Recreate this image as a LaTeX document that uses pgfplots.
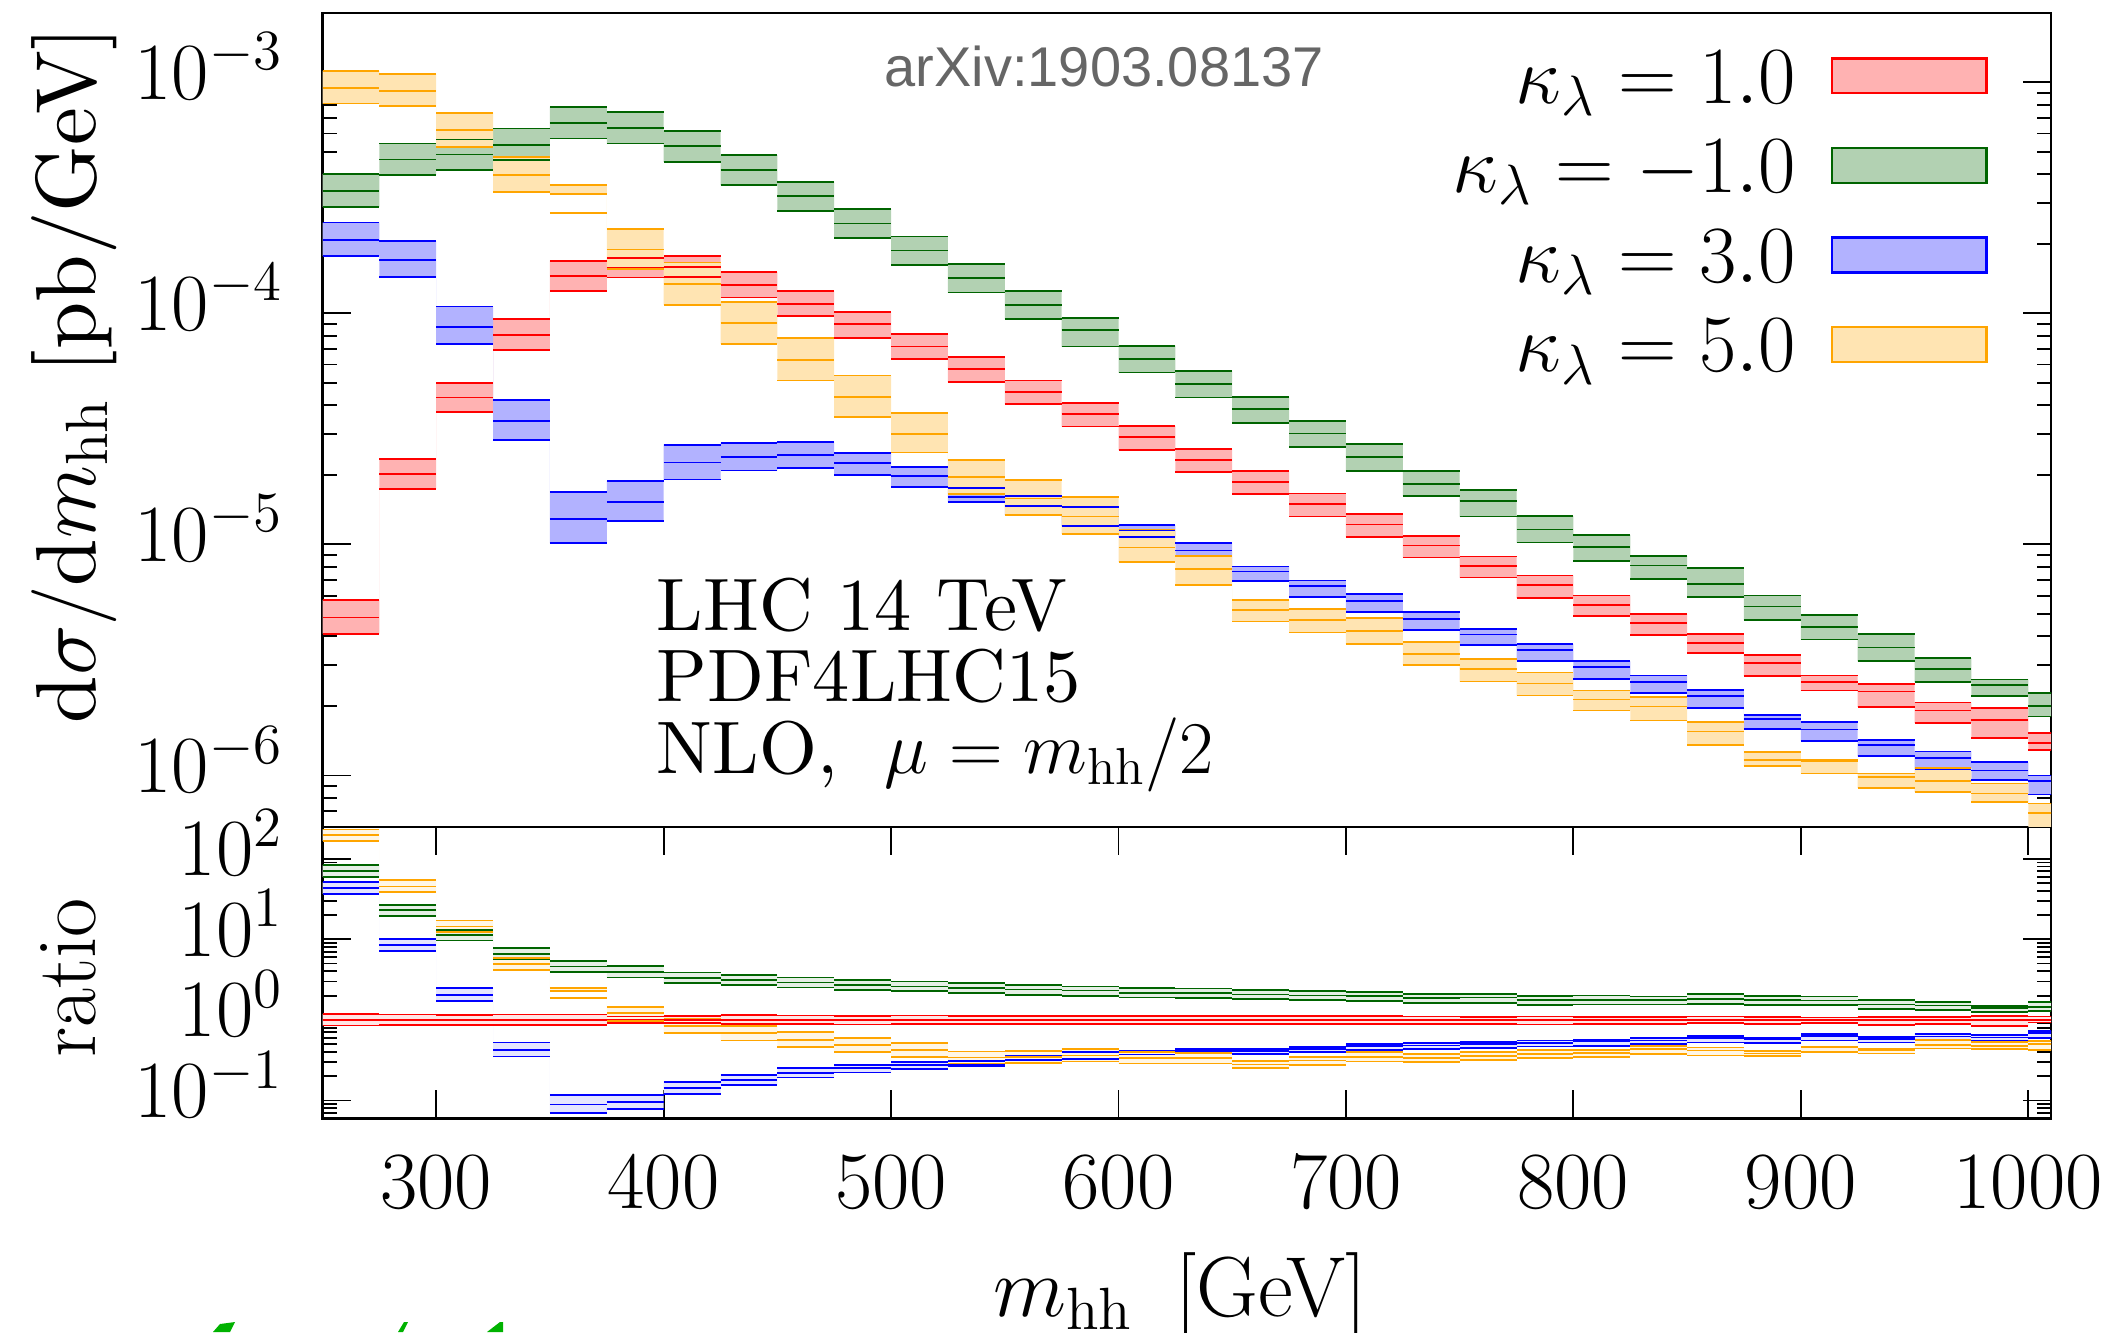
\RequirePackage{fix-cm}
\documentclass[border=0pt]{standalone}
\usepackage{fontspec}
\newfontfamily\arxivfont{Liberation Sans}
\newfontfamily\tenrm{lmroman10-regular.otf}
\usepackage{pgfplots}
\usepackage{pgfplotstable}
\usepgfplotslibrary{fillbetween}
\pgfplotsset{compat=1.18}

\definecolor{cR}{RGB}{255,0,0}
\definecolor{cG}{RGB}{0,100,0}
\definecolor{cB}{RGB}{0,0,255}
\definecolor{cO}{RGB}{255,165,0}
\newcommand\bigfont{\fontsize{20.3}{24}\selectfont}
\newcommand\labfont{\fontsize{21.3}{25}\selectfont}
\newcommand\txtfont{\tenrm\fontsize{18.6}{17.9}\selectfont}

% columns: bin start, band low, central, band high, then the same for the ratio panel
\pgfplotstableread{
x    lo      c       hi      rlo    rc     rhi
250  4.11e-6 4.83e-6 5.76e-6 0.850  1      1.190
275  1.74e-5 2.02e-5 2.35e-5 0.861  1      1.165
300  3.73e-5 4.32e-5 5.01e-5 0.864  1      1.161
325  6.94e-5 8.06e-5 9.42e-5 0.861  1      1.169
350  1.25e-4 1.45e-4 1.69e-4 0.864  1      1.165
375  1.43e-4 1.57e-4 1.73e-4 0.911  1      1.105
400  1.44e-4 1.59e-4 1.77e-4 0.905  1      1.112
425  1.17e-4 1.33e-4 1.51e-4 0.882  1      1.142
450  9.74e-5 1.10e-4 1.25e-4 0.882  1      1.134
475  7.85e-5 8.96e-5 1.01e-4 0.876  1      1.127
500  6.33e-5 7.18e-5 8.11e-5 0.882  1      1.131
525  5.05e-5 5.73e-5 6.45e-5 0.882  1      1.127
550  4.04e-5 4.58e-5 5.12e-5 0.882  1      1.116
575  3.24e-5 3.66e-5 4.08e-5 0.885  1      1.116
600  2.56e-5 2.91e-5 3.26e-5 0.882  1      1.119
625  2.05e-5 2.31e-5 2.58e-5 0.887  1      1.119
650  1.65e-5 1.86e-5 2.07e-5 0.887  1      1.112
675  1.32e-5 1.50e-5 1.66e-5 0.882  1      1.108
700  1.08e-5 1.22e-5 1.35e-5 0.890  1      1.112
725  8.78e-6 9.89e-6 1.09e-5 0.887  1      1.105
750  7.19e-6 8.08e-6 8.87e-6 0.890  1      1.097
775  5.86e-6 6.67e-6 7.34e-6 0.879  1      1.101
800  4.88e-6 5.48e-6 6.01e-6 0.890  1      1.097
825  4.04e-6 4.57e-6 4.99e-6 0.885  1      1.094
850  3.39e-6 3.73e-6 4.11e-6 0.908  1      1.101
875  2.70e-6 3.07e-6 3.31e-6 0.882  1      1.079
900  2.33e-6 2.53e-6 2.71e-6 0.920  1      1.072
925  1.98e-6 2.31e-6 2.49e-6 0.855  1      1.076
950  1.69e-6 1.91e-6 2.07e-6 0.882  1      1.083
975  1.45e-6 1.74e-6 1.96e-6 0.833  1      1.123
1000 1.29e-6 1.38e-6 1.53e-6 0.930  1      1.105
1025 1.29e-6 1.38e-6 1.53e-6 0.930  1      1.105
}\kOne

\pgfplotstableread{
x    lo      c       hi      rlo    rc     rhi
250  2.89e-4 3.38e-4 4.00e-4 59.8   69.9   82.8
275  3.96e-4 4.63e-4 5.43e-4 19.6   22.9   26.9
300  4.17e-4 4.87e-4 5.65e-4 9.65   11.3   13.1
325  4.60e-4 5.34e-4 6.31e-4 5.71   6.63   7.83
350  5.71e-4 6.67e-4 7.82e-4 3.94   4.60   5.40
375  5.43e-4 6.35e-4 7.44e-4 3.35   3.95   4.65
400  4.52e-4 5.29e-4 6.16e-4 2.84   3.32   3.87
425  3.58e-4 4.17e-4 4.84e-4 2.70   3.14   3.65
450  2.78e-4 3.22e-4 3.71e-4 2.52   2.91   3.36
475  2.12e-4 2.45e-4 2.83e-4 2.36   2.73   3.15
500  1.62e-4 1.87e-4 2.15e-4 2.26   2.60   2.99
525  1.23e-4 1.42e-4 1.63e-4 2.15   2.48   2.85
550  9.45e-5 1.09e-4 1.25e-4 2.06   2.39   2.73
575  7.18e-5 8.47e-5 9.51e-5 1.96   2.32   2.60
600  5.54e-5 6.35e-5 7.25e-5 1.90   2.18   2.49
625  4.32e-5 4.95e-5 5.65e-5 1.87   2.15   2.45
650  3.34e-5 3.85e-5 4.36e-5 1.80   2.07   2.35
675  2.63e-5 3.02e-5 3.42e-5 1.75   2.01   2.29
700  2.08e-5 2.39e-5 2.71e-5 1.71   1.97   2.23
725  1.62e-5 1.83e-5 2.07e-5 1.63   1.85   2.10
750  1.32e-5 1.54e-5 1.72e-5 1.63   1.90   2.12
775  1.02e-5 1.16e-5 1.33e-5 1.53   1.75   2.00
800  8.49e-6 9.76e-6 1.10e-5 1.55   1.78   2.01
825  7.10e-6 8.11e-6 8.90e-6 1.55   1.78   1.95
850  5.90e-6 6.76e-6 7.89e-6 1.58   1.81   2.12
875  4.69e-6 5.39e-6 6.01e-6 1.53   1.76   1.96
900  3.88e-6 4.40e-6 4.93e-6 1.53   1.74   1.95
925  3.12e-6 3.58e-6 4.08e-6 1.35   1.55   1.76
950  2.53e-6 2.89e-6 3.22e-6 1.32   1.51   1.68
975  2.20e-6 2.47e-6 2.60e-6 1.26   1.42   1.49
1000 1.80e-6 2.00e-6 2.28e-6 1.30   1.45   1.65
1025 1.80e-6 2.00e-6 2.28e-6 1.30   1.45   1.65
}\kMinusOne

\pgfplotstableread{
x    lo      c       hi      rlo    rc     rhi
250  1.77e-4 2.07e-4 2.47e-4 36.6   43.0   51.0
275  1.44e-4 1.70e-4 2.06e-4 7.13   8.42   10.2
300  7.37e-5 8.76e-5 1.07e-4 1.71   2.03   2.47
325  2.83e-5 3.42e-5 4.22e-5 0.352  0.425  0.524
350  1.01e-5 1.29e-5 1.68e-5 0.0694 0.089  0.1156
375  1.26e-5 1.53e-5 1.88e-5 0.078  0.095  0.117
400  1.91e-5 2.26e-5 2.70e-5 0.120  0.142  0.169
425  2.09e-5 2.38e-5 2.74e-5 0.157  0.180  0.207
450  2.14e-5 2.44e-5 2.77e-5 0.193  0.221  0.251
475  1.99e-5 2.25e-5 2.48e-5 0.222  0.251  0.277
500  1.77e-5 1.98e-5 2.17e-5 0.246  0.276  0.303
525  1.53e-5 1.61e-5 1.75e-5 0.268  0.281  0.306
550  1.34e-5 1.47e-5 1.62e-5 0.293  0.321  0.354
575  1.20e-5 1.32e-5 1.45e-5 0.328  0.361  0.396
600  1.08e-5 1.15e-5 1.21e-5 0.372  0.395  0.415
625  8.93e-6 9.41e-6 1.01e-5 0.387  0.408  0.439
650  6.96e-6 7.64e-6 8.03e-6 0.375  0.411  0.432
675  5.92e-6 6.58e-6 6.98e-6 0.395  0.439  0.466
700  5.10e-6 5.71e-6 6.10e-6 0.419  0.469  0.502
725  4.27e-6 4.77e-6 5.11e-6 0.432  0.482  0.517
750  3.66e-6 4.07e-6 4.30e-6 0.452  0.503  0.532
775  3.12e-6 3.48e-6 3.70e-6 0.468  0.522  0.556
800  2.62e-6 2.95e-6 3.12e-6 0.479  0.538  0.569
825  2.28e-6 2.54e-6 2.71e-6 0.498  0.556  0.594
850  1.96e-6 2.20e-6 2.35e-6 0.525  0.590  0.631
875  1.59e-6 1.76e-6 1.82e-6 0.518  0.574  0.594
900  1.41e-6 1.58e-6 1.70e-6 0.556  0.624  0.671
925  1.21e-6 1.35e-6 1.42e-6 0.523  0.584  0.614
950  1.07e-6 1.19e-6 1.27e-6 0.558  0.622  0.665
975  9.54e-7 1.05e-6 1.14e-6 0.547  0.604  0.656
1000 8.27e-7 9.44e-7 1.00e-6 0.598  0.683  0.725
1025 8.27e-7 9.44e-7 1.00e-6 0.598  0.683  0.725
}\kThree

\pgfplotstableread{
x    lo      c       hi      rlo    rc     rhi
250  8.09e-4 9.46e-4 1.12e-3 167    196    231
275  7.88e-4 9.15e-4 1.09e-3 39.0   45.3   54.0
300  5.26e-4 6.20e-4 7.37e-4 12.2   14.4   17.1
325  3.36e-4 3.96e-4 4.76e-4 4.17   4.91   5.91
350  3.28e-4 2.71e-4 3.59e-4 2.26   1.87   2.48
375  1.56e-4 1.89e-4 2.32e-4 0.97   1.21   1.44
400  1.09e-4 1.34e-4 1.66e-4 0.683  0.841  1.04
425  7.37e-5 9.05e-5 1.12e-4 0.556  0.683  0.847
450  5.12e-5 6.29e-5 7.85e-5 0.463  0.569  0.711
475  3.57e-5 4.36e-5 5.38e-5 0.399  0.487  0.600
500  2.50e-5 3.01e-5 3.69e-5 0.348  0.419  0.515
525  1.65e-5 1.95e-5 2.32e-5 0.288  0.341  0.405
550  1.34e-5 1.58e-5 1.90e-5 0.293  0.346  0.415
575  1.11e-5 1.32e-5 1.60e-5 0.304  0.362  0.438
600  8.38e-6 9.70e-6 1.16e-5 0.288  0.333  0.398
625  6.65e-6 7.82e-6 8.93e-6 0.288  0.339  0.387
650  4.64e-6 5.18e-6 5.74e-6 0.250  0.279  0.309
675  4.16e-6 4.69e-6 5.25e-6 0.278  0.313  0.350
700  3.70e-6 4.23e-6 4.80e-6 0.305  0.348  0.395
725  3.00e-6 3.35e-6 3.77e-6 0.303  0.339  0.381
750  2.55e-6 2.89e-6 3.19e-6 0.316  0.357  0.395
775  2.22e-6 2.50e-6 2.79e-6 0.333  0.375  0.419
800  1.91e-6 2.13e-6 2.33e-6 0.349  0.388  0.425
825  1.73e-6 1.99e-6 2.19e-6 0.380  0.436  0.479
850  1.35e-6 1.55e-6 1.70e-6 0.362  0.416  0.455
875  1.10e-6 1.17e-6 1.26e-6 0.357  0.382  0.412
900  1.02e-6 1.15e-6 1.17e-6 0.402  0.456  0.463
925  8.84e-7 9.86e-7 1.02e-6 0.382  0.426  0.441
950  8.46e-7 9.44e-7 1.08e-6 0.442  0.493  0.563
975  7.66e-7 8.35e-7 9.23e-7 0.439  0.479  0.529
1000 5.80e-7 6.89e-7 7.56e-7 0.420  0.498  0.547
1025 5.80e-7 6.89e-7 7.56e-7 0.420  0.498  0.547
}\kFive

% one band: #1 table, #2 path tag, #3 column prefix (empty or r),
% #4 line colour, #5 fill shade
\newcommand\band[5]{%
  \addplot[draw=none, const plot mark left, forget plot, name path=#2lo] table[x=x, y=#3lo] {#1};
  \addplot[draw=none, const plot mark left, forget plot, name path=#2hi] table[x=x, y=#3hi] {#1};
  \addplot[fill=#4!#5!white, draw=none, forget plot] fill between[of=#2hi and #2lo];
  \addplot[#4, line width=0.45pt, jump mark left, mark=none, forget plot] table[x=x, y=#3lo] {#1};
  \addplot[#4, line width=0.45pt, jump mark left, mark=none, forget plot] table[x=x, y=#3c] {#1};
  \addplot[#4, line width=0.45pt, jump mark left, mark=none, forget plot] table[x=x, y=#3hi] {#1};
}

\begin{document}
\begin{tikzpicture}

\begin{axis}[
  scale only axis, width=432.125pt, height=203.5pt,
  at={(80.625pt,126.325pt)}, anchor=south west,
  xmin=250, xmax=1010, ymode=log, ymin=6e-7, ymax=2e-3, xtick=\empty,
  axis line style={line width=0.6pt},
  every tick/.style={black, line width=0.45pt},
  major tick length=7pt, minor tick length=3.5pt, tick align=inside,
  tick label style={font=\bigfont}, label style={font=\labfont},
  yticklabel style={anchor=east, inner sep=0pt, xshift=-9.6pt, yshift=4pt},
  ylabel={{\tenrm d}$\sigma$/{\tenrm d}$m_{\mathrm{hh}}$ {\tenrm [pb/GeV]}},
  ylabel style={at={(axis description cs:-0.1316,0.555)}, anchor=base},
  legend style={draw=none, fill=none, inner sep=0pt, at={(1,1)}, anchor=north east,
    xshift=-15.6pt, yshift=-8.7pt, row sep=0pt, column sep=8.8pt,
    nodes={inner sep=0pt, text height=13.7pt, text depth=8.7pt, font=\bigfont}},
  legend cell align=right, legend plot pos=right,
  legend image code/.code={\draw[#1] (0pt,0pt) rectangle (38.6pt,8.7pt);},
]
  \band{\kOne}{a}{}{cR}{30}
  \band{\kMinusOne}{b}{}{cG}{30}
  \band{\kThree}{c}{}{cB}{30}
  \band{\kFive}{d}{}{cO}{30}
  \addlegendimage{draw=cR, fill=cR!30!white, line width=0.6pt}
  \addlegendentry{$\kappa_\lambda = 1.0$}
  \addlegendimage{draw=cG, fill=cG!30!white, line width=0.6pt}
  \addlegendentry{$\kappa_\lambda = -1.0$}
  \addlegendimage{draw=cB, fill=cB!30!white, line width=0.6pt}
  \addlegendentry{$\kappa_\lambda = 3.0$}
  \addlegendimage{draw=cO, fill=cO!30!white, line width=0.6pt}
  \addlegendentry{$\kappa_\lambda = 5.0$}
\end{axis}

\begin{axis}[
  scale only axis, width=432.125pt, height=72.9pt,
  at={(80.625pt,53.425pt)}, anchor=south west,
  xmin=250, xmax=1010, ymode=log, ymin=0.06, ymax=250,
  xtick={300,400,...,1000},
  axis line style={line width=0.6pt},
  every tick/.style={black, line width=0.45pt},
  major tick length=7pt, minor tick length=3.5pt, tick align=inside,
  tick label style={font=\bigfont}, label style={font=\labfont},
  yticklabel style={anchor=east, inner sep=0pt, xshift=-9.6pt, yshift=4pt},
  xticklabel style={anchor=north, inner sep=0pt, yshift=-9.2pt,
    /pgf/number format/set thousands separator={}},
  ylabel={ratio},
  ylabel style={at={(axis description cs:-0.1316,0.481)}, anchor=base},
  xlabel={$m_{\mathrm{hh}}$\hspace{0.5em}[GeV]},
  xlabel style={at={(axis description cs:0.4961,0)}, anchor=base, yshift=-49.5pt},
]
  \band{\kOne}{e}{r}{cR}{10}
  \band{\kMinusOne}{f}{r}{cG}{10}
  \band{\kThree}{g}{r}{cB}{10}
  \band{\kFive}{h}{r}{cO}{10}
\end{axis}

\node[anchor=base, text=black!60, font=\arxivfont\fontsize{14}{16}\selectfont] at (276.05pt,311.5pt) {arXiv:1903.08137};
\node[anchor=base west, inner sep=0pt, font=\txtfont] at (164pt,175.5pt) {LHC 14 TeV};
\node[anchor=base west, inner sep=0pt, font=\txtfont] at (164pt,157.6pt) {PDF4LHC15};
\node[anchor=base west, inner sep=0pt, font=\txtfont] at (164pt,139.7pt) {NLO,\hspace{0.3em} $\mu = m_{\mathrm{hh}}/2$};

% fragments of green lettering cut off at the lower edge
\fill[green!70!black] (53.25pt,0pt) -- (55pt,2pt) -- (58.75pt,2.5pt) -- (57.5pt,0pt) -- cycle;
\fill[green!70!black] (99.5pt,0pt) -- (101pt,2.5pt) -- (102pt,2.5pt) -- (100.75pt,0pt) -- cycle;
\fill[green!70!black] (121.75pt,0pt) -- (125pt,2.5pt) -- (125.75pt,2.5pt) -- (125.75pt,0pt) -- cycle;

\pgfresetboundingbox
\path[use as bounding box] (0pt,0pt) rectangle (528.75pt,333pt);
\end{tikzpicture}
\end{document}
